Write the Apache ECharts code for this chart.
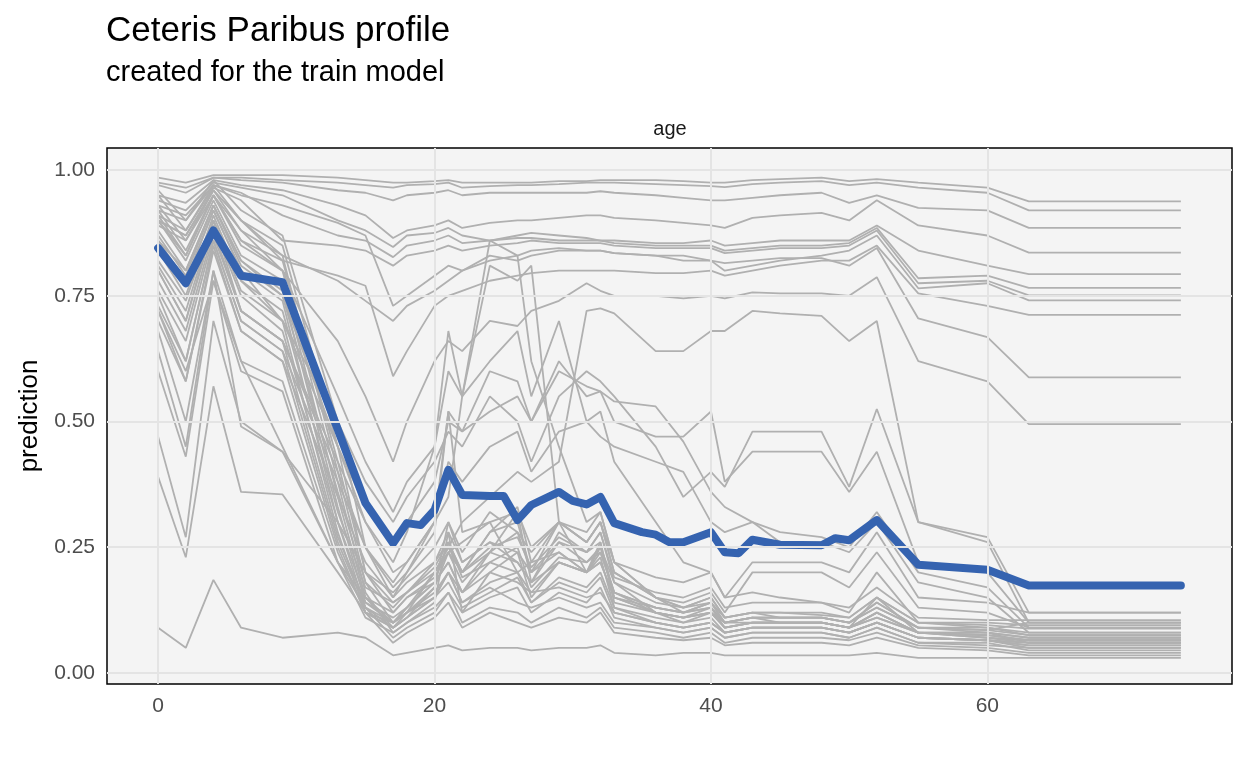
<!DOCTYPE html>
<html>
<head>
<meta charset="utf-8">
<title>Ceteris Paribus profile</title>
<script src="https://cdn.jsdelivr.net/npm/echarts@6/dist/echarts.min.js"></script>
<style>
html, body { margin: 0; padding: 0; background: #fff; }
#chart { width: 1248px; height: 768px; }
</style>
</head>
<body>
<div id="chart"></div>
<script>
// age grid of the observation profiles
var ages = [0, 2, 4, 6, 9, 13, 15, 17, 18, 20, 21, 22, 24, 26, 27, 29, 31, 32, 33, 36, 38, 40, 41, 43, 45, 48, 50, 52, 55, 60, 63, 74];

// one profile per observation (prediction at each age above)
var profiles = [
  [.985,.975,.99,.99,.99, .985,.98,.975,.975,.978, .98,.975,.975,.975,.975, .978,.978,.98,.98,.98, .978,.975,.975,.98,.982, .985,.978,.982,.975,.965, .938,.938],
  [.975,.965,.985,.985,.98, .975,.97,.965,.97,.972, .975,.965,.968,.97,.97, .972,.975,.975,.975,.972, .97,.968,.966,.972,.975, .978,.97,.975,.965,.955, .92,.92],
  [.97,.955,.985,.98,.975, .96,.955,.94,.95,.955, .96,.95,.955,.955,.955, .955,.955,.958,.955,.95, .945,.94,.94,.945,.95, .955,.935,.95,.925,.92, .885,.885],
  [.95,.935,.98,.97,.96, .93,.91,.865,.88,.89, .9,.885,.895,.9,.9, .905,.91,.91,.905,.9, .895,.89,.885,.905,.91, .915,.9,.94,.89,.87, .836,.836],
  [.94,.92,.975,.965,.95, .9,.88,.847,.87,.875, .885,.87,.86,.87,.875, .87,.865,.86,.86,.855, .855,.86,.85,.855,.86, .86,.86,.89,.84,.81, .793,.793],
  [.92,.9,.97,.955,.91, .87,.86,.827,.85,.86, .87,.855,.86,.865,.865, .86,.86,.86,.855,.85, .85,.85,.84,.845,.85, .85,.855,.885,.785,.79, .766,.766],
  [.91,.88,.965,.94,.86, .85,.84,.81,.83,.84, .85,.84,.85,.855,.86, .855,.855,.855,.85,.845, .845,.845,.835,.84,.845, .845,.85,.88,.775,.78, .751,.751],
  [.93,.91,.97,.95,.93, .895,.87,.73,.75,.79, .81,.8,.82,.83,.84, .845,.84,.84,.835,.83, .83,.82,.8,.81,.82, .83,.84,.87,.765,.775, .741,.741],
  [.9,.87,.96,.9,.82, .79,.77,.59,.64,.73, .75,.76,.78,.79,.795, .8,.8,.8,.8,.795, .795,.8,.79,.8,.81, .82,.82,.85,.755,.73, .712,.712],
  [.9,.87,.96,.9,.83, .78,.74,.7,.73,.76, .78,.8,.83,.82,.83, .84,.84,.84,.835,.83, .82,.82,.815,.82,.825, .825,.81,.845,.705,.668, .588,.588],
  [.89,.86,.95,.88,.8, .66,.55,.42,.5,.62, .66,.64,.7,.69,.72, .74,.775,.76,.75,.75, .745,.75,.745,.757,.755, .755,.75,.787,.62,.58, .495,.495],
  [.72,.6,.78,.62,.45, .22,.15,.1,.12,.2, .25,.3,.35,.4,.38, .42,.72,.725,.715,.64, .64,.68,.68,.72,.715, .71,.66,.7,.3,.27, .12,.12],
  [.86,.8,.93,.82,.75, .45,.3,.2,.22,.3, .35,.55,.81,.78,.81, .3,.2,.25,.18,.12, .1,.12,.1,.11,.1, .1,.09,.12,.08,.08, .06,.06],
  [.9,.83,.95,.86,.8, .55,.42,.32,.38,.45, .6,.55,.86,.83,.62, .45,.3,.32,.22,.15, .13,.14,.11,.12,.11, .11,.1,.14,.09,.08, .07,.07],
  [.8,.7,.9,.72,.66, .42,.3,.22,.28,.45, .68,.55,.62,.68,.55, .7,.5,.52,.42,.3, .22,.2,.15,.16,.15, .14,.12,.2,.1,.09, .075,.075],
  [.72,.58,.85,.68,.62, .35,.22,.15,.2,.3, .52,.48,.6,.58,.5, .62,.55,.56,.5,.47, .47,.52,.38,.44,.44, .44,.36,.44,.22,.2, .1,.1],
  [.85,.78,.92,.8,.7, .5,.38,.3,.35,.42, .48,.45,.55,.5,.42, .55,.6,.58,.55,.45, .35,.4,.37,.48,.48, .48,.37,.525,.3,.26, .1,.1],
  [.82,.74,.9,.78,.7, .45,.33,.25,.3,.38, .5,.48,.52,.55,.5, .6,.57,.56,.54,.53, .46,.36,.33,.3,.26, .26,.24,.3,.18,.15, .08,.08],
  [.75,.62,.86,.7,.64, .38,.25,.18,.22,.3, .42,.38,.45,.48,.4, .48,.5,.47,.45,.42, .4,.3,.28,.3,.28, .27,.25,.32,.2,.17, .09,.09],
  [.78,.68,.88,.72,.66, .4,.25,.17,.2,.28, .52,.28,.3,.32,.25, .3,.28,.32,.22,.15, .12,.13,.1,.1,.1, .1,.09,.15,.08,.07, .065,.065],
  [.95,.88,.97,.9,.85, .45,.2,.12,.15,.18, .22,.16,.2,.18,.16, .17,.15,.16,.12,.1, .09,.1,.08,.09,.09, .09,.08,.1,.07,.065, .05,.05],
  [.93,.86,.96,.88,.83, .4,.18,.1,.12,.15, .2,.14,.17,.14,.13, .15,.13,.14,.1,.09, .08,.09,.07,.08,.08, .08,.07,.09,.06,.06, .045,.045],
  [.92,.84,.95,.85,.8, .38,.16,.08,.1,.14, .28,.12,.2,.24,.15, .22,.2,.23,.13,.11, .1,.11,.08,.09,.09, .09,.08,.1,.07,.065, .055,.055],
  [.9,.82,.94,.83,.78, .35,.15,.09,.11,.17, .3,.22,.26,.22,.18, .26,.22,.24,.16,.12, .11,.12,.09,.1,.1, .1,.09,.12,.08,.075, .065,.065],
  [.88,.8,.93,.82,.76, .33,.14,.1,.13,.2, .24,.26,.3,.2,.22, .24,.2,.26,.15,.13, .12,.13,.1,.11,.11, .11,.1,.14,.09,.085, .075,.075],
  [.86,.78,.92,.8,.74, .3,.13,.07,.09,.12, .16,.1,.13,.12,.1, .13,.11,.13,.09,.08, .07,.08,.06,.07,.07, .07,.065,.08,.055,.05, .04,.04],
  [.84,.75,.91,.78,.72, .32,.17,.14,.16,.22, .26,.2,.28,.33,.22, .3,.26,.3,.2,.15, .14,.16,.12,.2,.2, .2,.17,.24,.13,.12, .09,.09],
  [.81,.72,.9,.76,.7, .28,.12,.06,.08,.11, .14,.09,.12,.1,.09, .11,.1,.12,.08,.07, .065,.07,.055,.06,.06, .06,.055,.07,.05,.045, .035,.035],
  [.8,.7,.89,.75,.68, .3,.15,.12,.15,.19, .24,.18,.24,.28,.2, .26,.24,.28,.18,.14, .13,.15,.11,.12,.12, .115,.11,.15,.1,.095, .088,.088],
  [.76,.66,.87,.72,.66, .27,.14,.11,.13,.18, .26,.19,.22,.25,.17, .23,.22,.25,.16,.13, .12,.14,.1,.11,.11, .11,.1,.13,.09,.09, .08,.08],
  [.73,.62,.86,.7,.64, .26,.13,.09,.12,.16, .2,.14,.18,.2,.14, .19,.17,.2,.13,.1, .09,.1,.08,.09,.09, .09,.08,.1,.07,.065, .06,.06],
  [.7,.58,.84,.68,.62, .25,.12,.1,.13,.18, .22,.16,.24,.32,.18, .28,.24,.26,.14,.12, .11,.13,.09,.1,.1, .1,.09,.12,.08,.08, .07,.07],
  [.64,.45,.8,.62,.58, .24,.12,.09,.11,.15, .18,.13,.16,.19,.14, .18,.16,.19,.12,.1, .09,.1,.08,.09,.09, .09,.08,.1,.07,.065, .055,.055],
  [.6,.43,.78,.6,.56, .22,.11,.08,.1,.13, .16,.12,.15,.17,.12, .16,.14,.17,.11,.09, .08,.09,.07,.08,.08, .08,.07,.09,.06,.055, .05,.05],
  [.47,.27,.7,.5,.44, .22,.13,.1,.12,.17, .24,.2,.28,.3,.2, .3,.26,.3,.2,.15, .13,.15,.11,.12,.12, .12,.11,.15,.1,.1, .095,.095],
  [.39,.23,.57,.36,.355, .2,.12,.09,.11,.15, .2,.16,.22,.2,.16, .22,.2,.22,.15,.12, .11,.12,.09,.1,.1, .1,.09,.11,.08,.075, .065,.065],
  [.09,.05,.185,.09,.07, .08,.07,.035,.04,.05, .055,.045,.05,.05,.045, .05,.05,.055,.04,.035, .04,.04,.035,.035,.035, .035,.035,.04,.03,.03, .03,.03],
  [.96,.9,.98,.92,.87, .5,.25,.15,.18,.22, .28,.22,.26,.24,.2, .24,.2,.24,.16,.13, .12,.14,.1,.11,.11, .11,.1,.13,.09,.085, .1,.1],
  [.91,.83,.95,.86,.82, .42,.2,.16,.19,.25, .3,.24,.32,.28,.24, .3,.26,.3,.22,.19, .18,.2,.15,.22,.22, .22,.2,.28,.15,.14, .12,.12],
  [.87,.79,.93,.81,.75, .36,.18,.13,.16,.21, .26,.2,.25,.27,.21, .27,.24,.28,.19,.16, .15,.17,.13,.14,.14, .14,.13,.17,.11,.105, .105,.105],
  [.68,.5,.8,.49,.44, .3,.2,.14,.16,.2, .25,.2,.24,.22,.18, .22,.2,.22,.15,.12, .11,.12,.09,.1,.1, .1,.09,.11,.08,.07, .06,.06]
];

// the highlighted (blue) profile
var meanAges = [0, 2, 4, 6, 9, 15, 17, 18, 19, 20, 21, 22, 24, 25, 26, 27, 29, 30, 31, 32, 33, 35, 36, 37, 38, 40, 41, 42, 43, 45, 48, 49, 50, 52, 55, 58, 60, 63, 74];
var meanProfile = [.845, .775, .88, .79, .777, .338, .258, .298, .294, .324, .404, .354, .352, .352, .304, .334, .36, .342, .335, .35, .298, .28, .275, .26, .26, .28, .24, .238, .265, .255, .254, .268, .264, .304, .215, .209, .205, .174, .174];

var xTicks = [0, 20, 40, 60];
var yTicks = [0, 0.25, 0.5, 0.75, 1];

var font = '"Liberation Sans", Arial, Helvetica, sans-serif';
var chart = echarts.init(document.getElementById('chart'), null, { renderer: 'canvas' });

var series = [{
  type: 'line',
  data: [],
  silent: true,
  z: 1,
  markLine: {
    silent: true,
    symbol: 'none',
    animation: false,
    label: { show: false },
    lineStyle: { color: '#e4e4e4', width: 2, type: 'solid' },
    data: xTicks.map(function (v) { return { xAxis: v }; })
      .concat(yTicks.map(function (v) { return { yAxis: v }; }))
  }
}];

profiles.forEach(function (p, k) {
  series.push({
    name: 'obs' + k,
    type: 'line',
    showSymbol: false,
    silent: true,
    z: 2,
    lineStyle: { color: '#b0b0b0', width: 1.8 },
    data: ages.map(function (a, i) { return [a, p[i]]; })
  });
});

series.push({
  name: 'profile',
  type: 'line',
  showSymbol: false,
  silent: true,
  z: 3,
  lineStyle: { color: '#3563b0', width: 8, join: 'round', cap: 'round' },
  data: meanAges.map(function (a, i) { return [a, meanProfile[i]]; })
});

chart.setOption({
  animation: false,
  backgroundColor: '#ffffff',
  textStyle: { fontFamily: font },
  title: {
    text: 'Ceteris Paribus profile',
    subtext: 'created for the train model',
    left: 106,
    top: 14,
    padding: 0,
    itemGap: 9,
    textStyle: { fontFamily: font, fontSize: 35, fontWeight: 'normal', color: '#000' },
    subtextStyle: { fontFamily: font, fontSize: 29, color: '#000' }
  },
  graphic: [{
    type: 'text',
    x: 670,
    y: 129,
    style: { text: 'age', font: '20px ' + font, fill: '#1a1a1a', textAlign: 'center', textVerticalAlign: 'middle' }
  }],
  grid: {
    left: 107, right: 16, top: 148, bottom: 84,
    show: true,
    backgroundColor: '#f4f4f4',
    borderColor: '#000000',
    borderWidth: 1.5
  },
  xAxis: {
    type: 'value',
    min: -3.7,
    max: 77.7,
    axisLine: { show: false },
    axisTick: { show: false },
    splitLine: { show: false },
    axisLabel: { customValues: xTicks, color: '#4d4d4d', fontSize: 21, margin: 12 }
  },
  yAxis: {
    type: 'value',
    min: -0.022,
    max: 1.044,
    name: 'prediction',
    nameLocation: 'middle',
    nameGap: 60,
    nameTextStyle: { fontSize: 26, color: '#000' },
    axisLine: { show: false },
    axisTick: { show: false },
    splitLine: { show: false },
    axisLabel: {
      customValues: yTicks,
      color: '#4d4d4d',
      fontSize: 21,
      margin: 12,
      formatter: function (v) { return v.toFixed(2); }
    }
  },
  series: series
});
</script>
</body>
</html>
